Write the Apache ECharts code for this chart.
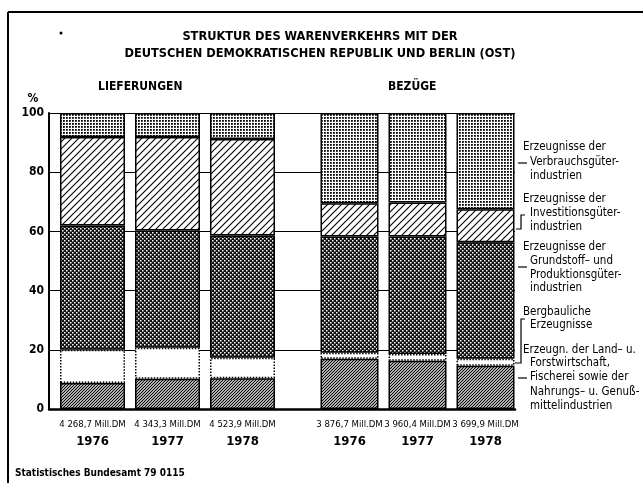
<!DOCTYPE html>
<html>
<head>
<meta charset="utf-8">
<script src="https://cdn.jsdelivr.net/npm/echarts@6/dist/echarts.min.js"></script>
<style>
  html, body { margin: 0; padding: 0; background: #fff; }
  #chart { width: 643px; height: 483px; }
</style>
</head>
<body>
<div id="chart"></div>
<script>
// categories and tick labels
const years = ["1976", "1977", "1978"];
const volumesLief = ["4 268,7 Mill.DM", "4 343,3 Mill.DM", "4 523,9 Mill.DM"];
const volumesBez = ["3 876,7 Mill.DM", "3 960,4 Mill.DM", "3 699,9 Mill.DM"];

// shares in %, stacked from the bottom up
const liefLand = [8.8, 10.2, 10.4];
const liefBerg = [11.2, 10.5, 6.9];
const liefGrund = [42.0, 39.6, 41.3];
const liefInvest = [29.9, 31.6, 32.6];
const liefVerbr = [8.1, 8.1, 8.8];

const bezLand = [17.0, 16.3, 14.6];
const bezBerg = [2.0, 2.3, 2.4];
const bezGrund = [39.3, 39.7, 39.3];
const bezInvest = [11.2, 11.5, 11.2];
const bezVerbr = [30.5, 30.2, 32.5];

// legend texts on the right
const labelVerbr = ["Erzeugnisse der", "Verbrauchsgüter-", "industrien"];
const labelInvest = ["Erzeugnisse der", "Investitionsgüter-", "industrien"];
const labelGrund = ["Erzeugnisse der", "Grundstoff\u2013 und", "Produktionsgüter-", "industrien"];
const labelBerg = ["Bergbauliche", "Erzeugnisse"];
const labelLand = ["Erzeugn. der Land\u2013 u.", "Forstwirtschaft,", "Fischerei sowie der", "Nahrungs\u2013 u. Genuß-", "mittelindustrien"];

const FONT = '"DejaVu Sans Condensed", "DejaVu Sans", sans-serif';

// hatch and dot fills
function pattern(size, draw) {
    const c = document.createElement("canvas");
    c.width = c.height = size;
    const g = c.getContext("2d");
    g.fillStyle = "#fff";
    g.fillRect(0, 0, size, size);
    draw(g, size);
    return { image: c, repeat: "repeat" };
}
function slashes(g, s, w) {
    g.strokeStyle = "#000";
    g.lineWidth = w;
    g.beginPath();
    g.moveTo(-1, s + 1); g.lineTo(s + 1, -1);
    g.moveTo(-1, 1); g.lineTo(1, -1);
    g.moveTo(s - 1, s + 1); g.lineTo(s + 1, s - 1);
    g.stroke();
}
const patVerbr = pattern(3, (g) => { g.fillStyle = "#000"; g.fillRect(0, 0, 1.8, 1.8); });
const patInvest = pattern(7, (g, s) => slashes(g, s, 1.1));
const patGrund = pattern(4, (g) => {
    g.fillStyle = "#111"; g.fillRect(0, 0, 4, 4);
    g.fillStyle = "#fff"; g.fillRect(0, 0, 1.5, 1.5); g.fillRect(2, 2, 1.5, 1.5);
});
const patLand = pattern(3, (g, s) => slashes(g, s, 1.2));

const myChart = echarts.init(document.getElementById("chart"), null, { renderer: "canvas" });

function barSeries(name, data, fill, gridIdx, stack, width, dotted) {
    return {
        name: name,
        type: "bar",
        stack: stack,
        xAxisIndex: gridIdx,
        yAxisIndex: gridIdx,
        barWidth: width,
        data: data,
        itemStyle: {
            color: fill,
            borderColor: "#000",
            borderWidth: 1.5,
            borderType: dotted ? "dotted" : "solid"
        },
        emphasis: { disabled: true },
        animation: false
    };
}

function xCat(gridIdx, volumes) {
    return {
        gridIndex: gridIdx,
        type: "category",
        data: years,
        axisLine: { show: false },
        axisTick: { show: false },
        axisLabel: {
            margin: 9,
            interval: 0,
            formatter: (value, idx) => `{v|${volumes[idx]}}\n{y|${value}}`,
            rich: {
                v: { fontFamily: FONT, fontSize: 9.5, color: "#000", lineHeight: 14 },
                y: { fontFamily: FONT, fontSize: 13, fontWeight: "bold", color: "#000", lineHeight: 20 }
            }
        }
    };
}

function hiddenY(gridIdx) {
    return { gridIndex: gridIdx, type: "value", min: 0, max: 100, show: false };
}

const txt = (x, y, text, size, weight, align) => ({
    type: "text", x: x, y: y, silent: true,
    style: { text: text, fontFamily: FONT, fontSize: size, fontWeight: weight || "normal",
             fill: "#000", align: align || "left", verticalAlign: "middle" }
});
const seg = (points, w) => ({
    type: "polyline", silent: true,
    shape: { points: points },
    style: { stroke: "#000", lineWidth: w || 1.2, fill: null }
});
const block = (lines, x0, x1, ys) => lines.map((t, i) => txt(i === 0 ? x0 : x1, ys[i], t, 11.5));

let graphics = [
    // frame
    seg([[8, 12], [643, 12]], 2),
    seg([[8, 12], [8, 483]], 2),
    txt(318, -3, "Schaubild 2", 11, "bold", "center"),
    { type: "circle", silent: true, shape: { cx: 61, cy: 33, r: 1.5 }, style: { fill: "#000" } },
    // headings
    txt(320, 37, "STRUKTUR DES WARENVERKEHRS MIT DER", 12.7, "bold", "center"),
    txt(320, 54, "DEUTSCHEN DEMOKRATISCHEN REPUBLIK UND BERLIN (OST)", 12.7, "bold", "center"),
    txt(98, 87, "LIEFERUNGEN", 12, "bold"),
    txt(388, 87, "BEZÜGE", 12, "bold"),
    txt(33, 99, "%", 12, "bold", "center"),
    txt(15, 473, "Statistisches Bundesamt 79 0115", 10, "bold"),
    // leader marks
    seg([[518, 163], [527, 163]]),
    seg([[525, 215], [521, 215], [521, 229], [516, 229]]),
    seg([[518, 267], [527, 267]]),
    seg([[525, 319], [521, 319], [521, 363], [515, 363]]),
    seg([[518, 378], [527, 378]])
];
graphics = graphics
    .concat(block(labelVerbr, 523, 530, [147, 162, 176]))
    .concat(block(labelInvest, 523, 530, [199, 213, 227]))
    .concat(block(labelGrund, 523, 530, [247, 261, 275, 288]))
    .concat(block(labelBerg, 523, 530, [312, 325]))
    .concat(block(labelLand, 523, 530, [350, 363, 377, 392, 406]));

const option = {
    backgroundColor: "#fff",
    animation: false,
    grid: [
        { left: 55, top: 113, width: 225, height: 296 },
        { left: 315.5, top: 113, width: 204, height: 296 },
        { left: 49, top: 113, width: 466, height: 296 }
    ],
    xAxis: [
        xCat(0, volumesLief),
        xCat(1, volumesBez),
        {
            gridIndex: 2, type: "value", min: 0, max: 1,
            axisLine: { show: true, lineStyle: { color: "#000", width: 2.5 } },
            axisTick: { show: false }, axisLabel: { show: false }, splitLine: { show: false }
        }
    ],
    yAxis: [
        hiddenY(0),
        hiddenY(1),
        {
            gridIndex: 2, type: "value", min: 0, max: 100, interval: 20,
            axisLine: { show: true, lineStyle: { color: "#000", width: 2 } },
            axisTick: { show: false },
            axisLabel: { color: "#000", fontFamily: FONT, fontSize: 12, fontWeight: "bold", margin: 5 },
            splitLine: { lineStyle: { color: "#000", width: 1.2 } }
        }
    ],
    series: [
        barSeries("Land- u. Forstwirtschaft", liefLand, patLand, 0, "lief", 65),
        barSeries("Bergbau", liefBerg, "#fff", 0, "lief", 65, true),
        barSeries("Grundstoff", liefGrund, patGrund, 0, "lief", 65),
        barSeries("Investitionsgüter", liefInvest, patInvest, 0, "lief", 65),
        barSeries("Verbrauchsgüter", liefVerbr, patVerbr, 0, "lief", 65),
        barSeries("Land- u. Forstwirtschaft", bezLand, patLand, 1, "bez", 58),
        barSeries("Bergbau", bezBerg, "#fff", 1, "bez", 58, true),
        barSeries("Grundstoff", bezGrund, patGrund, 1, "bez", 58),
        barSeries("Investitionsgüter", bezInvest, patInvest, 1, "bez", 58),
        barSeries("Verbrauchsgüter", bezVerbr, patVerbr, 1, "bez", 58),
        { type: "line", xAxisIndex: 2, yAxisIndex: 2, data: [], silent: true }
    ],
    graphic: { elements: graphics }
};

myChart.setOption(option);
</script>
</body>
</html>
